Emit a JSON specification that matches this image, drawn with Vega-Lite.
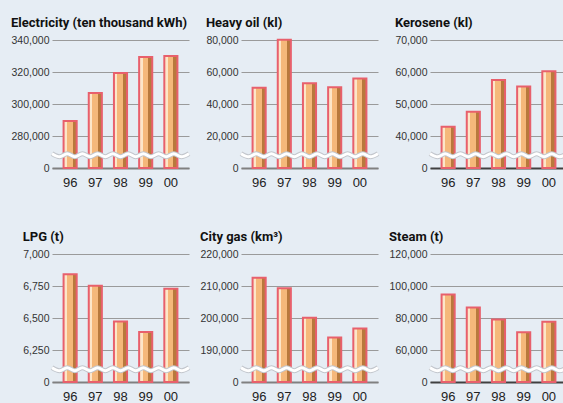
{
  "$schema": "https://vega.github.io/schema/vega-lite/v6.json",
  "background": "#e6edf4",
  "padding": {"left": 11, "top": 17, "right": 0, "bottom": 0},
  "bounds": "flush",
  "columns": 3,
  "spacing": {"row": 86, "column": 52},
  "datasets": {
    "energy": [
      {"panel": "Electricity", "year": "96", "value": 289400},
      {"panel": "Electricity", "year": "97", "value": 306900},
      {"panel": "Electricity", "year": "98", "value": 319300},
      {"panel": "Electricity", "year": "99", "value": 329300},
      {"panel": "Electricity", "year": "00", "value": 330000},
      {"panel": "Heavy oil", "year": "96", "value": 50200},
      {"panel": "Heavy oil", "year": "97", "value": 80200},
      {"panel": "Heavy oil", "year": "98", "value": 52900},
      {"panel": "Heavy oil", "year": "99", "value": 50500},
      {"panel": "Heavy oil", "year": "00", "value": 56000},
      {"panel": "Kerosene", "year": "96", "value": 42900},
      {"panel": "Kerosene", "year": "97", "value": 47600},
      {"panel": "Kerosene", "year": "98", "value": 57500},
      {"panel": "Kerosene", "year": "99", "value": 55500},
      {"panel": "Kerosene", "year": "00", "value": 60200},
      {"panel": "LPG", "year": "96", "value": 6842},
      {"panel": "LPG", "year": "97", "value": 6752},
      {"panel": "LPG", "year": "98", "value": 6473},
      {"panel": "LPG", "year": "99", "value": 6390},
      {"panel": "LPG", "year": "00", "value": 6729},
      {"panel": "City gas", "year": "96", "value": 212600},
      {"panel": "City gas", "year": "97", "value": 209300},
      {"panel": "City gas", "year": "98", "value": 200100},
      {"panel": "City gas", "year": "99", "value": 193900},
      {"panel": "City gas", "year": "00", "value": 196700},
      {"panel": "Steam", "year": "96", "value": 94700},
      {"panel": "Steam", "year": "97", "value": 86500},
      {"panel": "Steam", "year": "98", "value": 79000},
      {"panel": "Steam", "year": "99", "value": 71100},
      {"panel": "Steam", "year": "00", "value": 77600}
    ],
    "wave": [
      {"wx": 0.0, "wy": 0.112}, {"wx": 0.056, "wy": 0.088}, {"wx": 0.111, "wy": 0.112},
      {"wx": 0.167, "wy": 0.088}, {"wx": 0.222, "wy": 0.112}, {"wx": 0.278, "wy": 0.088},
      {"wx": 0.333, "wy": 0.112}, {"wx": 0.389, "wy": 0.088}, {"wx": 0.444, "wy": 0.112},
      {"wx": 0.5, "wy": 0.088}, {"wx": 0.556, "wy": 0.112}, {"wx": 0.611, "wy": 0.088},
      {"wx": 0.667, "wy": 0.112}, {"wx": 0.722, "wy": 0.088}, {"wx": 0.778, "wy": 0.112},
      {"wx": 0.833, "wy": 0.088}, {"wx": 0.889, "wy": 0.112}, {"wx": 0.944, "wy": 0.088},
      {"wx": 1.0, "wy": 0.112}
    ]
  },
  "config": {
    "view": {"stroke": null},
    "title": {"anchor": "start", "frame": "bounds", "font": "Roboto", "fontSize": 13, "fontWeight": "bold", "color": "#111111", "offset": 5},
    "axisY": {"domain": false, "ticks": false, "tickSize": 0, "grid": true, "gridColor": "#9a9a9a", "gridWidth": 1, "labelFont": "Liberation Sans", "labelFontSize": 10.5, "labelColor": "#333333", "labelPadding": 3, "title": null},
    "axisX": {"domain": true, "domainWidth": 2, "domainColor": "#808080", "ticks": false, "tickSize": 0, "grid": false, "labelFont": "Liberation Sans", "labelFontSize": 13, "labelColor": "#222222", "labelPadding": 8, "labelAngle": 0, "title": null}
  },
  "concat": [
    {
      "title": "Electricity (ten thousand kWh)",
      "width": 137, "height": 128,
      "resolve": {"scale": {"x": "independent", "y": "independent"}},
      "layer": [
        {
          "data": {"name": "energy"},
          "transform": [{"filter": "datum.panel == 'Electricity'"}],
          "mark": {"type": "bar", "stroke": "#e8606c", "strokeWidth": 2, "fill": {"gradient": "linear", "x1": 0, "x2": 1, "y1": 0, "y2": 0, "stops": [{"offset": 0, "color": "#fde6c8"}, {"offset": 0.27, "color": "#fde6c8"}, {"offset": 0.27, "color": "#f5b87a"}, {"offset": 0.7, "color": "#f5b87a"}, {"offset": 0.7, "color": "#b8793c"}, {"offset": 1, "color": "#b8793c"}]}},
          "encoding": {
            "x": {"field": "year", "type": "ordinal", "sort": null, "scale": {"paddingInner": 0.48, "paddingOuter": 0.46}},
            "y": {"field": "value", "type": "quantitative", "scale": {"domain": [260000, 340000], "nice": false, "zero": false}, "axis": {"values": [260000, 280000, 300000, 320000, 340000], "labelExpr": "datum.value == 260000 ? '0' : datum.label"}},
            "y2": {"datum": 260000}
          }
        },
        {"data": {"name": "wave"}, "mark": {"type": "line", "interpolate": "monotone", "stroke": "#c2c6cc", "strokeWidth": 5}, "encoding": {"x": {"field": "wx", "type": "quantitative", "scale": {"domain": [0, 1]}, "axis": null}, "y": {"field": "wy", "type": "quantitative", "scale": {"domain": [0, 1]}, "axis": null}}},
        {"data": {"name": "wave"}, "mark": {"type": "line", "interpolate": "monotone", "stroke": "#ffffff", "strokeWidth": 3}, "encoding": {"x": {"field": "wx", "type": "quantitative", "scale": {"domain": [0, 1]}, "axis": null}, "y": {"field": "wy", "type": "quantitative", "scale": {"domain": [0, 1]}, "axis": null}}}
      ]
    },
    {
      "title": "Heavy oil (kl)",
      "width": 137, "height": 128,
      "resolve": {"scale": {"x": "independent", "y": "independent"}},
      "layer": [
        {
          "data": {"name": "energy"},
          "transform": [{"filter": "datum.panel == 'Heavy oil'"}],
          "mark": {"type": "bar", "stroke": "#e8606c", "strokeWidth": 2, "fill": {"gradient": "linear", "x1": 0, "x2": 1, "y1": 0, "y2": 0, "stops": [{"offset": 0, "color": "#fde6c8"}, {"offset": 0.27, "color": "#fde6c8"}, {"offset": 0.27, "color": "#f5b87a"}, {"offset": 0.7, "color": "#f5b87a"}, {"offset": 0.7, "color": "#b8793c"}, {"offset": 1, "color": "#b8793c"}]}},
          "encoding": {
            "x": {"field": "year", "type": "ordinal", "sort": null, "scale": {"paddingInner": 0.48, "paddingOuter": 0.46}},
            "y": {"field": "value", "type": "quantitative", "scale": {"domain": [0, 80000], "nice": false, "zero": false}, "axis": {"values": [0, 20000, 40000, 60000, 80000]}},
            "y2": {"datum": 0}
          }
        },
        {"data": {"name": "wave"}, "mark": {"type": "line", "interpolate": "monotone", "stroke": "#c2c6cc", "strokeWidth": 5}, "encoding": {"x": {"field": "wx", "type": "quantitative", "scale": {"domain": [0, 1]}, "axis": null}, "y": {"field": "wy", "type": "quantitative", "scale": {"domain": [0, 1]}, "axis": null}}},
        {"data": {"name": "wave"}, "mark": {"type": "line", "interpolate": "monotone", "stroke": "#ffffff", "strokeWidth": 3}, "encoding": {"x": {"field": "wx", "type": "quantitative", "scale": {"domain": [0, 1]}, "axis": null}, "y": {"field": "wy", "type": "quantitative", "scale": {"domain": [0, 1]}, "axis": null}}}
      ]
    },
    {
      "title": "Kerosene (kl)",
      "width": 137, "height": 128,
      "resolve": {"scale": {"x": "independent", "y": "independent"}},
      "layer": [
        {
          "data": {"name": "energy"},
          "transform": [{"filter": "datum.panel == 'Kerosene'"}],
          "mark": {"type": "bar", "stroke": "#e8606c", "strokeWidth": 2, "fill": {"gradient": "linear", "x1": 0, "x2": 1, "y1": 0, "y2": 0, "stops": [{"offset": 0, "color": "#fde6c8"}, {"offset": 0.27, "color": "#fde6c8"}, {"offset": 0.27, "color": "#f5b87a"}, {"offset": 0.7, "color": "#f5b87a"}, {"offset": 0.7, "color": "#b8793c"}, {"offset": 1, "color": "#b8793c"}]}},
          "encoding": {
            "x": {"field": "year", "type": "ordinal", "sort": null, "scale": {"paddingInner": 0.48, "paddingOuter": 0.46}, "axis": {"domainColor": "#404040"}},
            "y": {"field": "value", "type": "quantitative", "scale": {"domain": [30000, 70000], "nice": false, "zero": false}, "axis": {"values": [30000, 40000, 50000, 60000, 70000], "labelExpr": "datum.value == 30000 ? '0' : datum.label"}},
            "y2": {"datum": 30000}
          }
        },
        {"data": {"name": "wave"}, "mark": {"type": "line", "interpolate": "monotone", "stroke": "#c2c6cc", "strokeWidth": 5}, "encoding": {"x": {"field": "wx", "type": "quantitative", "scale": {"domain": [0, 1]}, "axis": null}, "y": {"field": "wy", "type": "quantitative", "scale": {"domain": [0, 1]}, "axis": null}}},
        {"data": {"name": "wave"}, "mark": {"type": "line", "interpolate": "monotone", "stroke": "#ffffff", "strokeWidth": 3}, "encoding": {"x": {"field": "wx", "type": "quantitative", "scale": {"domain": [0, 1]}, "axis": null}, "y": {"field": "wy", "type": "quantitative", "scale": {"domain": [0, 1]}, "axis": null}}}
      ]
    },
    {
      "title": "LPG (t)",
      "width": 137, "height": 128,
      "resolve": {"scale": {"x": "independent", "y": "independent"}},
      "layer": [
        {
          "data": {"name": "energy"},
          "transform": [{"filter": "datum.panel == 'LPG'"}],
          "mark": {"type": "bar", "stroke": "#e8606c", "strokeWidth": 2, "fill": {"gradient": "linear", "x1": 0, "x2": 1, "y1": 0, "y2": 0, "stops": [{"offset": 0, "color": "#fde6c8"}, {"offset": 0.27, "color": "#fde6c8"}, {"offset": 0.27, "color": "#f5b87a"}, {"offset": 0.7, "color": "#f5b87a"}, {"offset": 0.7, "color": "#b8793c"}, {"offset": 1, "color": "#b8793c"}]}},
          "encoding": {
            "x": {"field": "year", "type": "ordinal", "sort": null, "scale": {"paddingInner": 0.48, "paddingOuter": 0.46}},
            "y": {"field": "value", "type": "quantitative", "scale": {"domain": [6000, 7000], "nice": false, "zero": false}, "axis": {"values": [6000, 6250, 6500, 6750, 7000], "labelExpr": "datum.value == 6000 ? '0' : datum.label"}},
            "y2": {"datum": 6000}
          }
        },
        {"data": {"name": "wave"}, "mark": {"type": "line", "interpolate": "monotone", "stroke": "#c2c6cc", "strokeWidth": 5}, "encoding": {"x": {"field": "wx", "type": "quantitative", "scale": {"domain": [0, 1]}, "axis": null}, "y": {"field": "wy", "type": "quantitative", "scale": {"domain": [0, 1]}, "axis": null}}},
        {"data": {"name": "wave"}, "mark": {"type": "line", "interpolate": "monotone", "stroke": "#ffffff", "strokeWidth": 3}, "encoding": {"x": {"field": "wx", "type": "quantitative", "scale": {"domain": [0, 1]}, "axis": null}, "y": {"field": "wy", "type": "quantitative", "scale": {"domain": [0, 1]}, "axis": null}}}
      ]
    },
    {
      "title": "City gas (km³)",
      "width": 137, "height": 128,
      "resolve": {"scale": {"x": "independent", "y": "independent"}},
      "layer": [
        {
          "data": {"name": "energy"},
          "transform": [{"filter": "datum.panel == 'City gas'"}],
          "mark": {"type": "bar", "stroke": "#e8606c", "strokeWidth": 2, "fill": {"gradient": "linear", "x1": 0, "x2": 1, "y1": 0, "y2": 0, "stops": [{"offset": 0, "color": "#fde6c8"}, {"offset": 0.27, "color": "#fde6c8"}, {"offset": 0.27, "color": "#f5b87a"}, {"offset": 0.7, "color": "#f5b87a"}, {"offset": 0.7, "color": "#b8793c"}, {"offset": 1, "color": "#b8793c"}]}},
          "encoding": {
            "x": {"field": "year", "type": "ordinal", "sort": null, "scale": {"paddingInner": 0.48, "paddingOuter": 0.46}},
            "y": {"field": "value", "type": "quantitative", "scale": {"domain": [180000, 220000], "nice": false, "zero": false}, "axis": {"values": [180000, 190000, 200000, 210000, 220000], "labelExpr": "datum.value == 180000 ? '0' : datum.label"}},
            "y2": {"datum": 180000}
          }
        },
        {"data": {"name": "wave"}, "mark": {"type": "line", "interpolate": "monotone", "stroke": "#c2c6cc", "strokeWidth": 5}, "encoding": {"x": {"field": "wx", "type": "quantitative", "scale": {"domain": [0, 1]}, "axis": null}, "y": {"field": "wy", "type": "quantitative", "scale": {"domain": [0, 1]}, "axis": null}}},
        {"data": {"name": "wave"}, "mark": {"type": "line", "interpolate": "monotone", "stroke": "#ffffff", "strokeWidth": 3}, "encoding": {"x": {"field": "wx", "type": "quantitative", "scale": {"domain": [0, 1]}, "axis": null}, "y": {"field": "wy", "type": "quantitative", "scale": {"domain": [0, 1]}, "axis": null}}}
      ]
    },
    {
      "title": "Steam (t)",
      "width": 137, "height": 128,
      "resolve": {"scale": {"x": "independent", "y": "independent"}},
      "layer": [
        {
          "data": {"name": "energy"},
          "transform": [{"filter": "datum.panel == 'Steam'"}],
          "mark": {"type": "bar", "stroke": "#e8606c", "strokeWidth": 2, "fill": {"gradient": "linear", "x1": 0, "x2": 1, "y1": 0, "y2": 0, "stops": [{"offset": 0, "color": "#fde6c8"}, {"offset": 0.27, "color": "#fde6c8"}, {"offset": 0.27, "color": "#f5b87a"}, {"offset": 0.7, "color": "#f5b87a"}, {"offset": 0.7, "color": "#b8793c"}, {"offset": 1, "color": "#b8793c"}]}},
          "encoding": {
            "x": {"field": "year", "type": "ordinal", "sort": null, "scale": {"paddingInner": 0.48, "paddingOuter": 0.46}, "axis": {"domainColor": "#404040"}},
            "y": {"field": "value", "type": "quantitative", "scale": {"domain": [40000, 120000], "nice": false, "zero": false}, "axis": {"values": [40000, 60000, 80000, 100000, 120000], "labelExpr": "datum.value == 40000 ? '0' : datum.label"}},
            "y2": {"datum": 40000}
          }
        },
        {"data": {"name": "wave"}, "mark": {"type": "line", "interpolate": "monotone", "stroke": "#c2c6cc", "strokeWidth": 5}, "encoding": {"x": {"field": "wx", "type": "quantitative", "scale": {"domain": [0, 1]}, "axis": null}, "y": {"field": "wy", "type": "quantitative", "scale": {"domain": [0, 1]}, "axis": null}}},
        {"data": {"name": "wave"}, "mark": {"type": "line", "interpolate": "monotone", "stroke": "#ffffff", "strokeWidth": 3}, "encoding": {"x": {"field": "wx", "type": "quantitative", "scale": {"domain": [0, 1]}, "axis": null}, "y": {"field": "wy", "type": "quantitative", "scale": {"domain": [0, 1]}, "axis": null}}}
      ]
    }
  ]
}
